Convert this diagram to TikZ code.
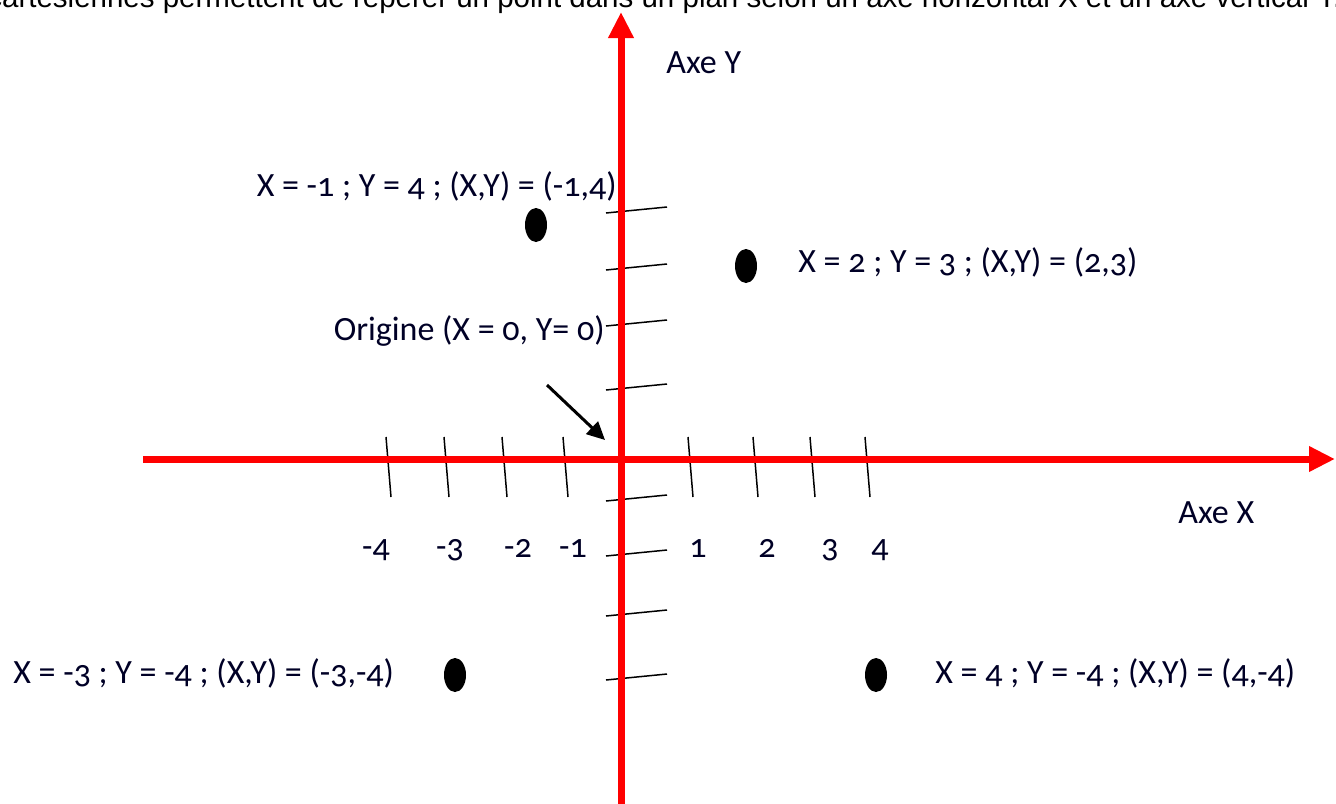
\documentclass[tikz,border=0pt]{standalone}
\usepackage{fontspec}
\setmainfont{Carlito}[Numbers=OldStyle]
\newfontfamily\topfont{Liberation Sans}
\usetikzlibrary{arrows.meta,shapes.geometric}
\tikzset{
  axis/.style={red, line width=3.5pt, -{Triangle[length=13pt,width=12pt]}},
  tickmark/.style={black, line width=0.75pt},
  dot/.style={fill=black, ellipse, minimum width=11pt, minimum height=17pt, inner sep=0pt, draw=none},
  lbl/.style={font=\fontsize{17}{20}\selectfont, inner sep=0pt, text=black!85!blue},
  num/.style={font=\fontsize{17}{20}\selectfont, inner sep=0pt, anchor=base, text=black!85!blue},
  pointer/.style={black, line width=1.5pt, -{Triangle[length=9pt,width=8.5pt]}}
}
\begin{document}
\begin{tikzpicture}[x=0.5pt, y=-0.5pt]
\useasboundingbox (0,0) rectangle (1336,803);
\clip (0,0) rectangle (1336,803);
\fill[white] (0,0) rectangle (1336,803);
% clipped sentence at the very top
\node[anchor=base west, inner sep=0pt, font=\topfont\fontsize{14.75}{16}\selectfont] (top) at (-13,8)
  {cartésiennes permettent de repérer un point dans un plan selon un axe horizontal X et un axe vertical Y.};
% axes
\coordinate (ybot) at (621,810);
\coordinate (ytop) at (621,12);
\coordinate (xleft) at (143,459);
\coordinate (xright) at (1335,459);
% x ticks
\foreach \t/\n in {388/xm4,446/xm3,504/xm2,565/xm1,690/xp1,755/xp2,812/xp3,867/xp4}{
  \coordinate (\n a) at (\t-2,437);
  \coordinate (\n b) at (\t+3,497);
  \draw[tickmark] (\n a) -- (\n b);
}
% y ticks
\foreach \t/\n in {210/yp4,267/yp3,323/yp2,387/yp1,498/ym1,553/ym2,613/ym3,677/ym4}{
  \coordinate (\n a) at (606,\t+3);
  \coordinate (\n b) at (667,\t-3);
  \draw[tickmark] (\n a) -- (\n b);
}
\draw[axis] (ybot) -- (ytop);
\draw[axis] (xleft) -- (xright);
% axis labels
\node[lbl, anchor=base west] (axey) at (666,73) {Axe Y};
\node[lbl, anchor=base west] (axex) at (1178,523) {Axe X};
% number labels
\node[num] (nm4) at (376,557) {-4};
\node[num] (nm3) at (450,557) {-3};
\node[num] (nm2) at (518,557) {-2};
\node[num] (nm1) at (573,557) {-1};
\node[num] (np1) at (698,557) {1};
\node[num] (np2) at (767,557) {2};
\node[num] (np3) at (830,557) {3};
\node[num] (np4) at (880,557) {4};
% points
\node[dot] (p1) at (536,225) {};
\node[dot] (p2) at (746,266) {};
\node[dot] (p3) at (455,675) {};
\node[dot] (p4) at (876,675) {};
% point labels
\node[lbl, anchor=base east] (l1) at (617,196) {X = -1 ; Y = 4 ; (X,Y) = (-1,4)};
\node[lbl, anchor=base west] (l2) at (798,272) {X = 2 ; Y = 3 ; (X,Y) = (2,3)};
\node[lbl, anchor=base east] (l0) at (605,340) {Origine (X = 0, Y= 0)};
\node[lbl, anchor=base west] (l3) at (13,683) {X = -3 ; Y = -4 ; (X,Y) = (-3,-4)};
\node[lbl, anchor=base west] (l4) at (935,683) {X = 4 ; Y = -4 ; (X,Y) = (4,-4)};
% origin pointer
\coordinate (ptrs) at (547,385);
\coordinate (ptre) at (605,440);
\draw[pointer] (ptrs) -- (ptre);
\end{tikzpicture}
\end{document}
